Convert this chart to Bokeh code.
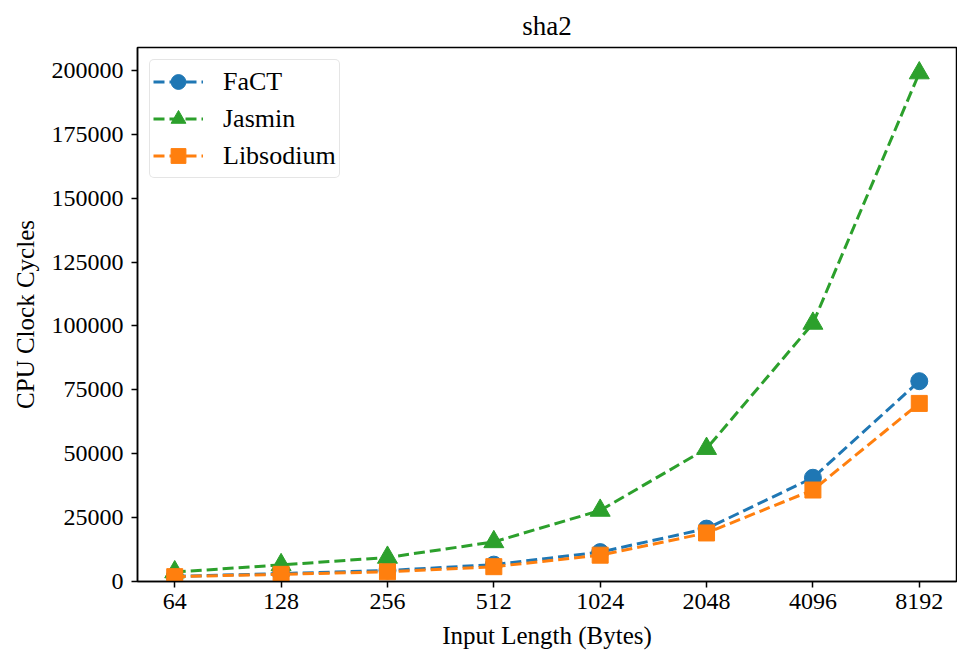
from bokeh.plotting import figure
from bokeh.models import Range1d, FixedTicker, NumeralTickFormatter, Legend, LegendItem
from bokeh.embed import file_html
from bokeh.resources import INLINE

sizes = [64, 128, 256, 512, 1024, 2048, 4096, 8192]
fact = [2000, 3100, 4300, 6600, 11500, 20700, 40600, 78400]
jasmin = [3700, 6500, 9400, 15500, 27800, 52000, 101000, 199000]
libsodium = [1900, 2800, 3800, 5800, 10300, 19000, 35800, 69700]
y_ticks = [0, 25000, 50000, 75000, 100000, 125000, 150000, 175000, 200000]

FONT = "Liberation Serif"

p = figure(width=957, height=655, output_backend="svg", toolbar_location=None,
           x_axis_type="log",
           x_range=Range1d(64 * 2 ** -0.35, 8192 * 2 ** 0.35),
           y_range=Range1d(0, 209000),
           min_border_left=137, min_border_right=1, min_border_top=47, min_border_bottom=74,
           title="sha2")

p.title.text_font = FONT
p.title.text_font_size = "27px"
p.title.text_font_style = "normal"
p.title.text_color = "black"
p.title.align = "center"
p.title.offset = 0
p.title.standoff = 14

p.grid.visible = False
p.outline_line_color = "black"
p.outline_line_width = 1.5
p.background_fill_color = "white"
p.border_fill_color = "white"

p.xaxis.ticker = FixedTicker(ticks=sizes)
p.xaxis.formatter = NumeralTickFormatter(format="0")
p.yaxis.ticker = FixedTicker(ticks=y_ticks)
p.yaxis.formatter = NumeralTickFormatter(format="0")
p.xaxis.axis_label = "Input Length (Bytes)"
p.yaxis.axis_label = "CPU Clock Cycles"

for ax in (p.xaxis, p.yaxis):
    ax.axis_label_text_font = FONT
    ax.axis_label_text_font_size = "25px"
    ax.axis_label_text_font_style = "normal"
    ax.axis_label_text_color = "black"
    ax.major_label_text_font = FONT
    ax.major_label_text_font_size = "24px"
    ax.major_label_text_color = "black"
    ax.major_tick_out = 6
    ax.major_tick_in = 0
    ax.minor_tick_out = 0
    ax.minor_tick_in = 0
    ax.major_tick_line_color = "black"
    ax.major_tick_line_width = 1.5
    ax.axis_line_color = "black"
    ax.axis_line_width = 1.5
p.yaxis.major_label_standoff = 8
p.xaxis.major_label_standoff = 6
p.yaxis.axis_label_standoff = 10
p.xaxis.axis_label_standoff = 10

series = [
    ("FaCT", fact, "#1f77b4", "circle", 17),
    ("Jasmin", jasmin, "#2ca02c", "triangle", 20),
    ("Libsodium", libsodium, "#ff7f0e", "square", 16),
]

items = []
for name, vals, color, marker, size in series:
    ln = p.line(sizes, vals, line_color=color, line_width=3, line_dash="11 5")
    sc = p.scatter(sizes, vals, marker=marker, size=size, fill_color=color,
                   line_color=color, line_width=1)
    items.append(LegendItem(label=name, renderers=[ln, sc]))

legend = Legend(items=items, location="top_left")
legend.label_text_font = FONT
legend.label_text_font_size = "26px"
legend.label_text_color = "black"
legend.glyph_width = 50
legend.glyph_height = 37
legend.label_standoff = 20
legend.spacing = 0
legend.padding = 3
legend.margin = 12
legend.border_line_color = "#cccccc"
legend.border_line_width = 1.5
legend.background_fill_alpha = 0.8
if "border_radius" in Legend.properties():
    legend.border_radius = 5
p.add_layout(legend)

open("out.html", "w").write(file_html(p, INLINE))
